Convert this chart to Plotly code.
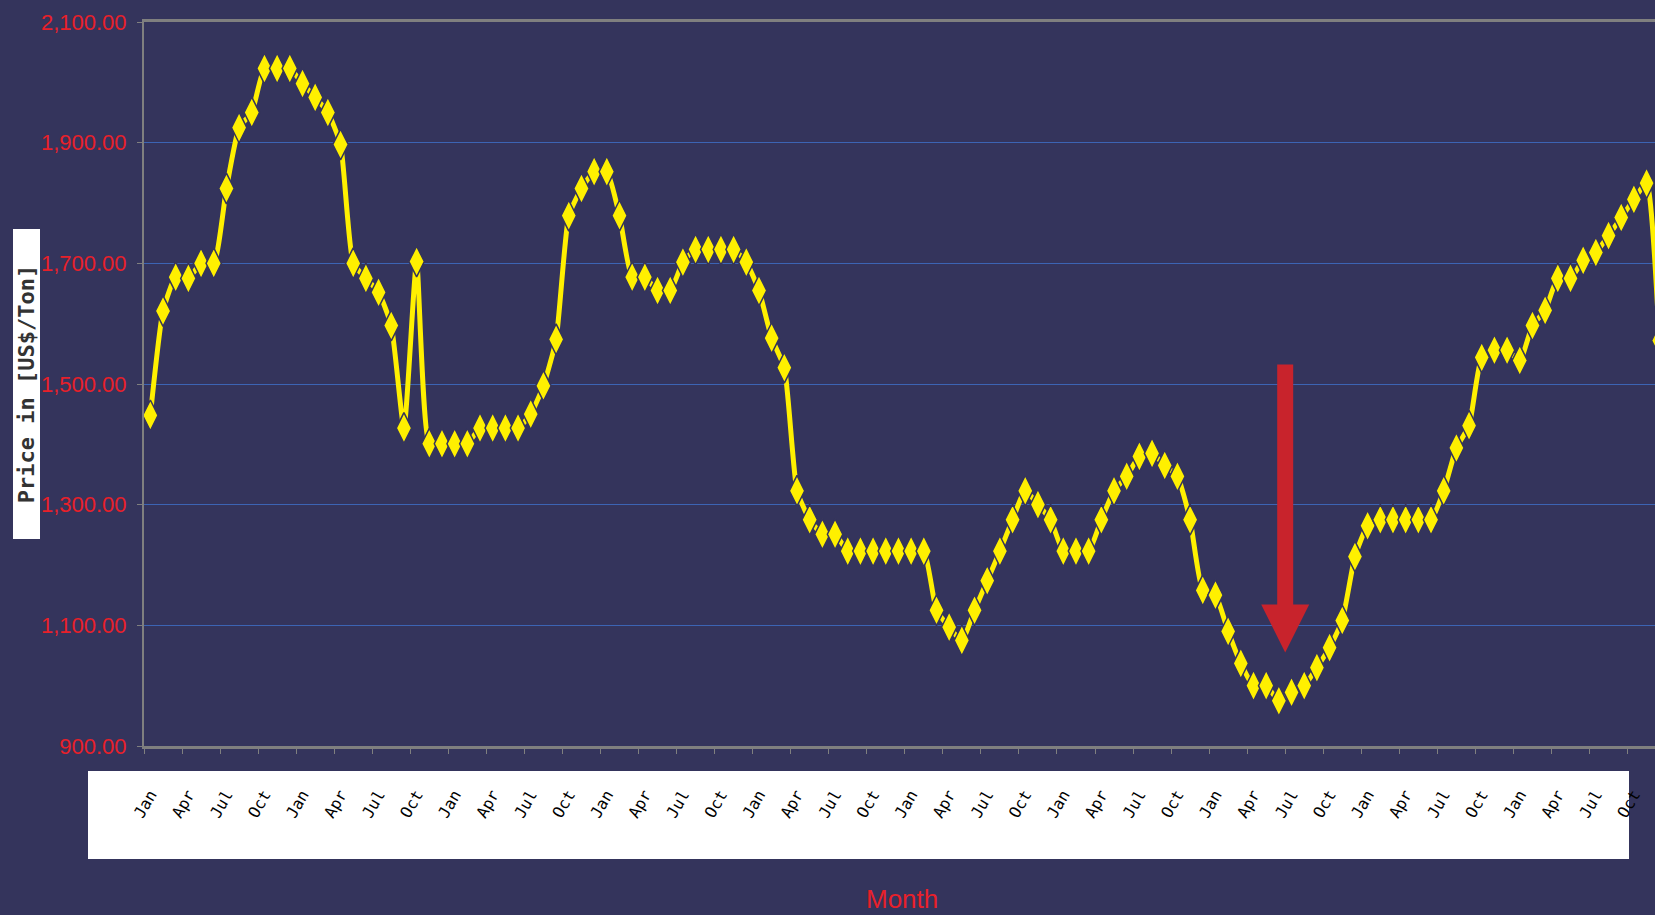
import plotly.graph_objects as go

# ---- data (monthly prices, US$/Ton) ----
prices = [
    1448, 1621, 1677, 1675, 1700, 1700, 1824, 1925, 1950, 2023,
    2023, 2023, 1998, 1975, 1950, 1897, 1700, 1675, 1652, 1597,
    1427, 1703, 1401, 1401, 1401, 1401, 1427, 1427, 1427, 1427,
    1450, 1497, 1574, 1779, 1824, 1852, 1852, 1779, 1677, 1677,
    1655, 1655, 1702, 1723, 1723, 1723, 1723, 1702, 1655, 1576,
    1527, 1323, 1275, 1251, 1251, 1223, 1223, 1223, 1223, 1223,
    1223, 1223, 1125, 1097, 1075, 1125, 1174, 1223, 1275, 1323,
    1300, 1275, 1223, 1223, 1223, 1275, 1323, 1347, 1380, 1385,
    1365, 1347, 1275, 1158, 1150, 1090, 1037, 1000, 1000, 975,
    989, 1000, 1030, 1063, 1108, 1214, 1265, 1275, 1275, 1275,
    1275, 1275, 1323, 1394, 1431, 1544, 1556, 1556, 1539, 1597,
    1622, 1675, 1675, 1705, 1718, 1746, 1776, 1806, 1833, 1572,
]
month_cycle = ["Jan", "Apr", "Jul", "Oct"]
label_step = 3
months_idx = list(range(len(prices)))
tick_positions = months_idx[::label_step]
tick_labels = [month_cycle[k % 4] for k in range(len(tick_positions))]
y_ticks = [900, 1100, 1300, 1500, 1700, 1900, 2100]

# ---- styling ----
BG = "#34345C"
YELLOW = "#FFF000"
RED_TXT = "#E8202A"
ARROW_RED = "#C8232C"
GRID = "#3C64B4"
AXIS = "#7F7F7F"
SANS = "Liberation Sans, Arial, sans-serif"
W, H = 1655, 915
ML, MR, MT, MB = 144, 0, 22, 169
plot_w = W - ML - MR
plot_h = H - MT - MB
px_per_month = 12.68

fig = go.Figure()
fig.add_trace(go.Scatter(
    x=months_idx, y=prices, mode="lines+markers",
    line=dict(color=YELLOW, width=5, shape="spline", smoothing=0.5),
    marker=dict(symbol="diamond-tall", size=22, color=YELLOW,
                line=dict(color=BG, width=1.5)),
    hoverinfo="x+y", showlegend=False,
))

x_end = -0.5 + plot_w / px_per_month

def px_x(X):
    return (X - ML) / plot_w

def px_y(Y):
    return (MT + plot_h - Y) / plot_h

shapes = [
    dict(type="rect", xref="paper", yref="paper", layer="below",
         x0=px_x(88), x1=px_x(1629), y0=px_y(771), y1=px_y(859),
         fillcolor="white", line=dict(width=0)),
]
min_i = prices.index(min(prices))
shapes.append(dict(
    type="path", xref="x", yref="y", xsizemode="pixel", ysizemode="pixel",
    xanchor=min_i + 0.5, yanchor=1055,
    path="M0,0 L-24,48 L-8,48 L-8,288 L8,288 L8,48 L24,48 Z",
    fillcolor=ARROW_RED, line=dict(width=0), layer="above",
))

annotations = [
    dict(text="<b>Price in [US$/Ton]</b>", xref="paper", yref="paper",
         x=px_x(27), y=px_y(384.5), xanchor="center", yanchor="middle",
         textangle=-90, showarrow=False, bgcolor="white",
         width=307, height=24,
         font=dict(family="DejaVu Sans Mono", size=22, color="#333333")),
    dict(text="Month", xref="paper", yref="paper",
         x=px_x(902), y=px_y(899), xanchor="center", yanchor="middle",
         showarrow=False,
         font=dict(family=SANS, size=26, color=RED_TXT)),
]

fig.update_layout(
    width=W, height=H,
    margin=dict(l=ML, r=MR, t=MT, b=MB, pad=0),
    paper_bgcolor=BG, plot_bgcolor=BG,
    shapes=shapes, annotations=annotations,
    xaxis=dict(
        range=[-0.5, x_end], tickmode="array",
        tickvals=tick_positions, ticktext=tick_labels,
        tickangle=-60, ticks="", ticklabelstandoff=30,
        tickfont=dict(family="DejaVu Sans Mono", size=16, color="black"),
        showline=True, linecolor=AXIS, linewidth=3, mirror=True,
        showgrid=False, zeroline=False,
        minor=dict(tickvals=[p - 0.5 for p in tick_positions],
                   ticks="outside", ticklen=5, tickcolor=AXIS, tickwidth=1,
                   showgrid=False),
    ),
    yaxis=dict(
        range=[900, 2100], tickmode="array", tickvals=y_ticks,
        tickformat=",.2f",
        tickfont=dict(family=SANS, size=22, color=RED_TXT),
        ticks="outside", ticklen=5, tickcolor=AXIS, ticklabelstandoff=6,
        showline=True, linecolor=AXIS, linewidth=2,
        showgrid=True, gridcolor=GRID, gridwidth=1, zeroline=False,
    ),
)

fig.write_html(
    "out.html",
    config={"displayModeBar": False},
    post_script="document.body.style.margin='0';document.body.style.padding='0';"
                "document.body.style.overflow='hidden';"
                "document.body.style.background='" + BG + "';",
)
